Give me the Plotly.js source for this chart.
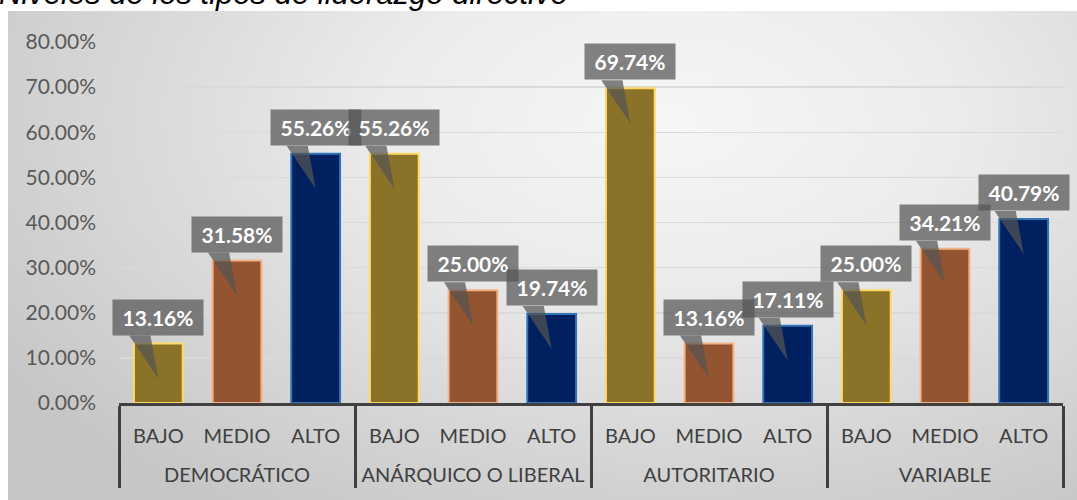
<!DOCTYPE html>
<html>
<head>
<meta charset="utf-8">
<script src="https://cdn.plot.ly/plotly-3.0.1.min.js"></script>
<style>
  html, body { margin: 0; padding: 0; background: #ffffff; }
  #wrap { position: relative; width: 1077px; height: 500px; overflow: hidden; background: #ffffff; }
  #bg { position: absolute; left: 8px; top: 11px; right: 0; bottom: 0;
        background: radial-gradient(ellipse 75% 95% at 62% 22%, #f6f6f6 0%, #ececec 35%, #dadada 65%, #c6c6c6 100%); }
  #chart { position: absolute; left: 0; top: 0; width: 1077px; height: 500px; }
</style>
</head>
<body>
<div id="wrap"><div id="bg"></div><div id="chart"></div></div>
<script>
// ---- data ----
const groups = ["DEMOCRÁTICO", "ANÁRQUICO O LIBERAL", "AUTORITARIO", "VARIABLE"];
const levels = ["BAJO", "MEDIO", "ALTO"];
const bajo  = [13.16, 55.26, 69.74, 25.00];
const medio = [31.58, 25.00, 13.16, 34.21];
const alto  = [55.26, 19.74, 17.11, 40.79];
const yTicks = [0, 10, 20, 30, 40, 50, 60, 70, 80];
const titleText = "Niveles de los tipos de liderazgo directivo";

// ---- styles ----
const fillColors = {BAJO: "#8a7228", MEDIO: "#925431", ALTO: "#01205f"};
const lineColors = {BAJO: "#ffd966", MEDIO: "#f4b183", ALTO: "#2e75b6"};
const FONT = 'Lato, "Open Sans", sans-serif';

const seriesByLevel = {BAJO: bajo, MEDIO: medio, ALTO: alto};
const xGroup = [], xLevel = [], yVals = [], fc = [], lc = [];
groups.forEach((g, gi) => {
  levels.forEach(l => {
    xGroup.push(" <br>" + g);   // blank first line = extra spacing below level labels
    xLevel.push(l);
    yVals.push(seriesByLevel[l][gi]);
    fc.push(fillColors[l]); lc.push(lineColors[l]);
  });
});
const n = yVals.length;

const margin = {l: 119, r: 14, t: 42, b: 97};
const plotH = 500 - margin.t - margin.b;
const yMax = 80;
const ppu = plotH / yMax;          // pixels per y-unit
const gapAbove = 8, tipBelow = 35; // callout geometry (px)

const trace = {
  type: "bar",
  x: [xGroup, xLevel],
  y: yVals,
  width: 0.62,
  marker: {color: fc, line: {color: lc, width: 2}},
  hoverinfo: "none"
};

const annotations = [], shapes = [];
yVals.forEach((v, i) => {
  annotations.push({
    xref: "x2", yref: "y", x: i, y: v, yanchor: "bottom", yshift: gapAbove,
    text: "<b>" + v.toFixed(2) + "%</b>", showarrow: false,
    width: 90, height: 35, borderpad: 0,
    bgcolor: "rgba(85,85,85,0.72)",
    font: {family: FONT, size: 21, color: "#ffffff"}
  });
  const yb = v + gapAbove / ppu, yt = v - tipBelow / ppu;
  shapes.push({
    type: "path", xref: "x2", yref: "y", layer: "above",
    path: `M ${i - 0.37} ${yb} L ${i - 0.1} ${yb} L ${i} ${yt} Z`,
    fillcolor: "rgba(85,85,85,0.72)", line: {width: 0}
  });
});

annotations.push({
  text: titleText, xref: "paper", yref: "paper",
  x: 0, xanchor: "left", xshift: -121,
  y: 1 + (margin.t - 12.5) / plotH, yanchor: "bottom",
  showarrow: false, borderpad: 0,
  font: {family: '"Liberation Sans", Arial, sans-serif', size: 31, color: "#000000", style: "italic"}
});

const layout = {
  width: 1077, height: 500,
  margin: margin,
  paper_bgcolor: "rgba(0,0,0,0)",
  plot_bgcolor: "rgba(0,0,0,0)",
  showlegend: false,
  xaxis: {
    type: "multicategory",
    range: [-0.5, n - 0.5],
    showline: true, linecolor: "#404040", linewidth: 3,
    showdividers: true, dividercolor: "#404040", dividerwidth: 3,
    ticks: "", showgrid: false,
    ticklabelstandoff: 13,
    tickfont: {family: FONT, size: 20, color: "#404040"}
  },
  xaxis2: {
    overlaying: "x", anchor: "y", range: [-0.5, n - 0.5],
    visible: false, fixedrange: true
  },
  yaxis: {
    range: [0, yMax],
    tickvals: yTicks,
    ticktext: yTicks.map(t => t.toFixed(2) + "%"),
    showgrid: true, gridcolor: "#dadada", gridwidth: 1.5,
    zeroline: false, showline: false,
    ticklabelstandoff: 22,
    tickfont: {family: FONT, size: 21, color: "#595959"}
  },
  annotations: annotations,
  shapes: shapes
};

Plotly.newPlot("chart", [trace, {type: "scatter", x: [0], y: [0], xaxis: "x2", yaxis: "y", mode: "markers", marker: {opacity: 0}, hoverinfo: "none"}], layout, {staticPlot: true});
</script>
</body>
</html>
